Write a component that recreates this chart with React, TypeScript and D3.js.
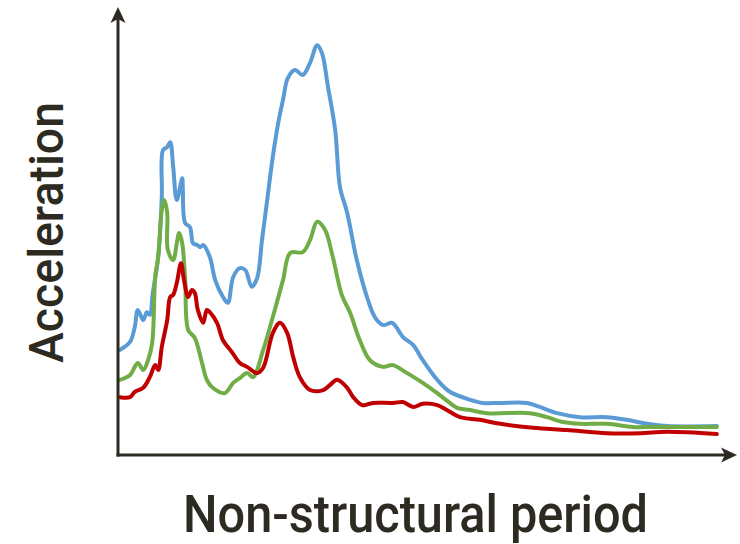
import React from "react";
import * as d3 from "d3";

const W = 740;
const H = 544;

// Period (0-100, arbitrary) and acceleration (0-100, arbitrary)
const bluePeriod = [0.3,2.0,2.8,3.3,4.2,4.8,5.3,5.8,6.7,7.3,7.5,8.2,8.7,9.2,9.8,10.7,10.8,11.2,12.0,12.5,13.2,13.7,14.2,15.3,16.2,17.5,18.3,19.2,20.3,21.2,22.3,23.2,24.0,24.8,25.8,26.7,27.5,28.3,29.5,30.8,32.0,33.2,34.0,35.0,36.2,37.0,38.2,39.8,41.5,42.8,44.2,45.7,47.5,49.2,50.8,53.2,55.3,58.7,60.8,63.7,68.2,70.3,73.2,77.0,81.5,84.8,88.2,91.5,99.8];
const blueAccel = [23.6,25.4,28.8,32.6,30.3,32.1,31.5,36.4,44.5,58.0,68.5,69.2,70.3,64.7,57.3,62.2,59.6,52.1,51.2,47.6,47.2,46.7,47.2,44.5,39.3,35.5,34.2,40.0,42.0,41.6,37.8,39.8,48.3,56.6,67.0,74.6,79.8,84.7,86.5,85.4,88.1,92.1,90.3,82.7,73.0,60.2,54.4,43.8,35.5,31.0,29.2,29.7,26.5,24.7,21.3,16.9,14.2,12.4,11.7,11.7,11.7,10.8,9.4,8.5,8.5,7.9,7.0,6.5,6.5];

const greenPeriod = [0.3,2.0,3.3,4.2,5.0,5.7,6.2,6.7,7.3,7.7,8.2,8.3,9.2,9.8,10.2,10.7,11.2,11.7,12.8,14.0,14.8,15.8,17.8,19.2,20.3,21.5,22.5,24.2,25.8,27.5,28.7,30.8,32.0,33.2,34.5,35.8,37.3,38.7,40.3,42.0,44.2,45.8,48.2,50.8,53.2,55.3,56.5,58.7,61.5,68.7,71.5,74.2,77.0,81.5,85.8,89.2,99.8];
const greenAccel = [16.9,18.0,20.7,19.1,21.3,25.2,40.0,44.5,55.1,57.3,54.4,46.1,43.8,47.6,49.9,47.6,39.3,28.1,26.3,20.7,16.9,15.1,13.9,16.2,17.3,18.4,17.5,23.6,31.0,39.3,45.4,45.6,48.3,52.4,50.6,44.5,36.0,31.9,25.8,21.3,19.8,20.2,18.4,16.2,13.9,11.7,10.6,10.1,9.4,9.4,8.5,7.4,7.0,7.0,6.3,6.3,6.3];

const redPeriod = [0.3,2.0,2.8,4.2,5.3,6.2,6.7,7.3,8.2,8.7,9.2,9.8,10.5,11.0,11.7,12.3,12.8,13.3,14.2,14.8,15.3,16.5,17.5,19.0,20.3,21.5,23.2,24.2,25.8,27.0,28.2,29.2,30.3,32.0,34.2,35.3,36.5,38.2,39.2,40.7,42.5,45.8,47.5,49.2,50.8,53.2,54.8,57.0,60.3,63.7,69.2,74.8,81.5,87.0,91.5,99.8];
const redAccel = [13.0,13.0,14.2,15.1,17.5,20.2,19.1,24.3,30.3,35.5,36.0,38.7,43.1,39.3,35.5,37.1,36.4,32.6,29.7,32.6,32.1,29.7,25.8,23.1,20.7,19.8,18.4,19.6,27.4,29.7,27.4,22.0,17.5,14.6,14.6,15.7,16.9,15.1,13.0,11.2,11.7,11.7,11.9,10.8,11.5,11.2,10.1,8.5,7.9,7.0,6.1,5.6,4.9,4.9,5.2,4.7];

const seriesNames = ["blue", "green", "red"];
const seriesColors = ["#5b9bd5", "#70ad47", "#c00000"];
const xTitle = "Non-structural period";
const yTitle = "Acceleration";

const x = d3.scaleLinear().domain([0, 100]).range([118, 718]);
const y = d3.scaleLinear().domain([0, 100]).range([455, 10]);

const line = d3
  .line<[number, number]>()
  .x((d) => x(d[0]))
  .y((d) => y(d[1]))
  .curve(d3.curveCatmullRom.alpha(0.5));

const zip = (a: number[], b: number[]) => a.map((v, i) => [v, b[i]] as [number, number]);
const series = [zip(bluePeriod, blueAccel), zip(greenPeriod, greenAccel), zip(redPeriod, redAccel)];

const AX = "#2d2a22";

export default function App() {
  const x0 = x(0);
  const y0 = y(0);
  const xEnd = 737;
  const yTop = 7;
  return (
    <svg width={W} height={H} style={{ position: "absolute", left: 0, top: 0, background: "#fff" }}>
      {series.map((s, i) => (
        <path
          key={seriesNames[i]}
          d={line(s) || ""}
          fill="none"
          stroke={seriesColors[i]}
          strokeWidth={4}
          strokeLinejoin="round"
          strokeLinecap="round"
        />
      ))}
      <line x1={x0} y1={y0 + 1.5} x2={x0} y2={yTop + 8} stroke={AX} strokeWidth={3} />
      <line x1={x0 - 1.5} y1={y0} x2={xEnd - 8} y2={y0} stroke={AX} strokeWidth={3} />
      <path
        d={`M${x0},${yTop} L${x0 + 7.5},${yTop + 16} L${x0},${yTop + 12} L${x0 - 7.5},${yTop + 16} Z`}
        fill={AX}
      />
      <path
        d={`M${xEnd},${y0} L${xEnd - 16},${y0 - 7.5} L${xEnd - 12},${y0} L${xEnd - 16},${y0 + 7.5} Z`}
        fill={AX}
      />
      <text
        x={415.5}
        y={531.5}
        textAnchor="middle"
        fontFamily="Roboto, 'DejaVu Sans', sans-serif"
        fontWeight={500}
        fontSize={51}
        fill={AX}
        textLength={465}
        lengthAdjust="spacingAndGlyphs"
      >
        {xTitle}
      </text>
      <text
        transform="translate(63,232.5) rotate(-90)"
        textAnchor="middle"
        fontFamily="Roboto, 'DejaVu Sans', sans-serif"
        fontWeight={500}
        fontSize={49}
        fill={AX}
        textLength={261}
        lengthAdjust="spacingAndGlyphs"
      >
        {yTitle}
      </text>
    </svg>
  );
}
